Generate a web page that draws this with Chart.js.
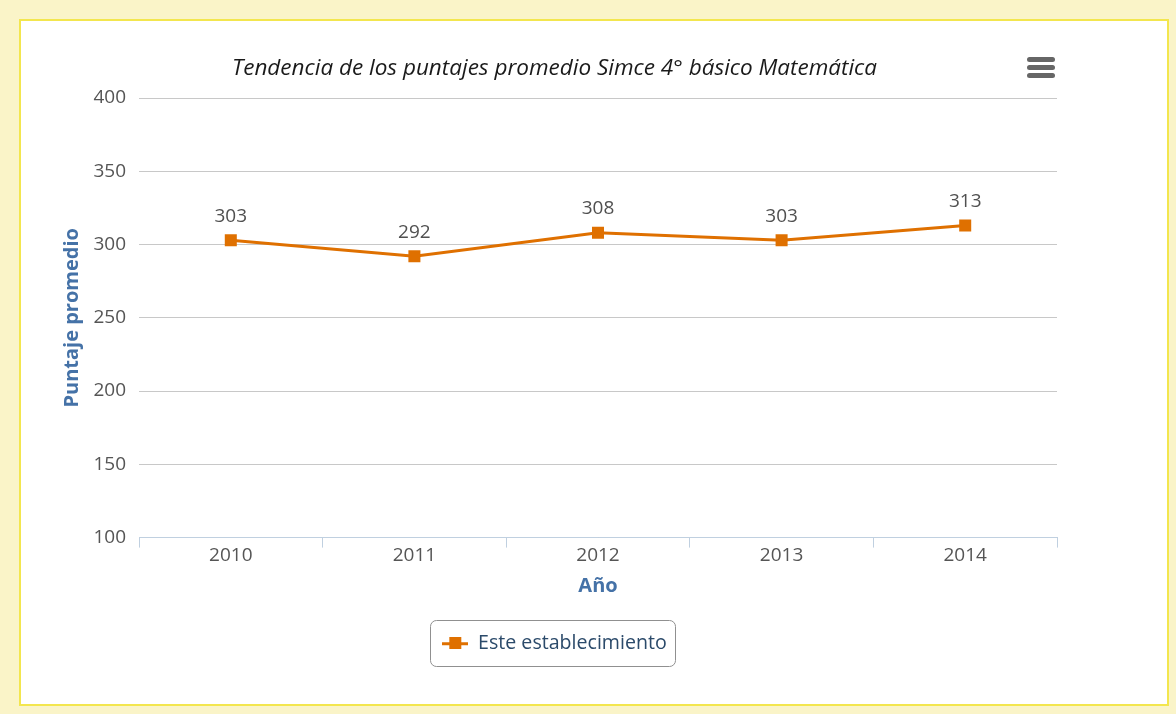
<!DOCTYPE html>
<html>
<head>
<meta charset="utf-8">
<script src="https://cdn.jsdelivr.net/npm/chart.js@4/dist/chart.umd.min.js"></script>
<style>
  html, body { margin: 0; padding: 0; }
  body { width: 1176px; height: 714px; background: #faf4c8; position: relative; overflow: hidden; }
  #box { position: absolute; left: 19px; top: 19px; width: 1146px; height: 683px; border: 2px solid #f3e64e; background: #ffffff; }
  #wrap { position: absolute; left: 0; top: 0; width: 1146px; height: 683px; }
  #menu { position: absolute; left: 1006px; top: 36px; width: 28px; height: 24px; }
  #menu span { display: block; width: 28px; height: 5px; border-radius: 2.5px; background: #666; margin-bottom: 3px; }
</style>
</head>
<body>
<div id="box">
  <div id="wrap"><canvas id="c"></canvas></div>
  <div id="menu"><span></span><span></span><span></span></div>
</div>
<script>
const categories = ['2010', '2011', '2012', '2013', '2014'];
const seriesName = 'Este establecimiento';
const seriesValues = [303, 292, 308, 303, 313];
const yTicks = [100, 150, 200, 250, 300, 350, 400];
const titleText = 'Tendencia de los puntajes promedio Simce 4° básico Matemática';
const yTitle = 'Puntaje promedio';
const xTitle = 'Año';

const ORANGE = '#df7000';
const FONT = "'Open Sans', 'Noto Sans', sans-serif";

// legend symbol: line with square
const sym = document.createElement('canvas');
sym.width = 26; sym.height = 12;
(function () {
  const g = sym.getContext('2d');
  g.fillStyle = ORANGE;
  g.fillRect(0, 5, 26, 3);
  g.fillRect(7, 0, 12, 12);
})();

const dataLabels = {
  id: 'dataLabels',
  afterDatasetsDraw(chart) {
    const ctx = chart.ctx;
    const meta = chart.getDatasetMeta(0);
    ctx.save();
    ctx.font = "19px " + FONT;
    ctx.fillStyle = '#505050';
    ctx.textAlign = 'center';
    ctx.textBaseline = 'middle';
    meta.data.forEach((pt, i) => {
      ctx.fillText(String(chart.data.datasets[0].data[i]), pt.x, pt.y - 24);
    });
    ctx.restore();
  }
};

const legendBox = {
  id: 'legendBox',
  afterDraw(chart) {
    const lg = chart.legend;
    if (!lg || !lg.legendHitBoxes || !lg.legendHitBoxes.length) return;
    const hb = lg.legendHitBoxes[0];
    const ctx = chart.ctx;
    const x = hb.left - 12, y = hb.top + hb.height / 2 - 23, w = hb.width + 21, h = 46, r = 6;
    ctx.save();
    ctx.strokeStyle = '#909090';
    ctx.lineWidth = 1;
    ctx.beginPath();
    ctx.roundRect(Math.round(x) + 0.5, Math.round(y) + 0.5, Math.round(w), h, r);
    ctx.stroke();
    ctx.restore();
  }
};

new Chart(document.getElementById('c'), {
  type: 'line',
  data: {
    labels: categories,
    datasets: [{
      label: seriesName,
      data: seriesValues,
      borderColor: ORANGE,
      backgroundColor: ORANGE,
      borderWidth: 3,
      pointStyle: 'rect',
      pointRadius: 8.5,
      pointHoverRadius: 8.5,
      pointBorderWidth: 0,
      tension: 0,
      fill: false
    }]
  },
  options: {
    responsive: true,
    maintainAspectRatio: false,
    animation: false,
    layout: { padding: { left: 31, right: 110, top: 0, bottom: 41 } },
    plugins: {
      tooltip: { enabled: false },
      title: {
        display: true,
        text: titleText,
        color: '#1a1a1a',
        font: { family: FONT, size: 22.5, style: 'italic', weight: 'normal', lineHeight: 1.2 },
        padding: { top: 34.5, bottom: 15.5 }
      },
      legend: {
        position: 'bottom',
        labels: {
          usePointStyle: true,
          pointStyle: sym,
          pointStyleWidth: 26,
          color: '#2b4a6a',
          font: { family: FONT, size: 19.6 },
          padding: 10
        }
      }
    },
    scales: {
      x: {
        offset: true,
        grid: { display: true, drawOnChartArea: false, drawTicks: true, tickLength: 10, color: '#c0d0e0', offset: true },
        border: { display: true, color: '#c0d0e0', width: 1 },
        ticks: { color: '#555', font: { family: FONT, size: 19 }, padding: -3.5 },
        title: { display: true, text: xTitle, color: '#4572a7', font: { family: FONT, size: 20, weight: 'bold' }, padding: { top: 11, bottom: 25 } }
      },
      y: {
        min: 100,
        max: 400,
        afterBuildTicks(scale) { scale.ticks = yTicks.map(v => ({ value: v })); },
        afterFit(scale) { scale.width = 87; },
        grid: { color: '#c8c8c8', drawTicks: false, lineWidth: 1 },
        border: { display: false },
        ticks: { color: '#555', font: { family: FONT, size: 19 }, padding: 13 },
        title: { display: true, text: yTitle, color: '#4572a7', font: { family: FONT, size: 20, weight: 'bold' }, padding: { top: 8, bottom: 0 } }
      }
    }
  },
  plugins: [dataLabels, legendBox]
});
</script>
</body>
</html>
